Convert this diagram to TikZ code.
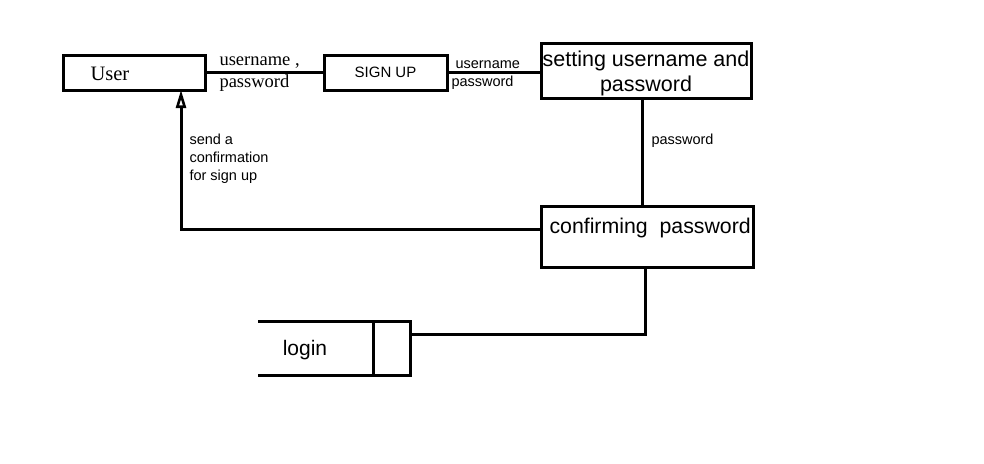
\documentclass[tikz,border=0pt]{standalone}
\usepackage{fontspec}
\setmainfont{Liberation Sans}
\newfontfamily\serifx{Liberation Serif}
\usetikzlibrary{arrows.meta}
\begin{document}
\begin{tikzpicture}[x=1pt,y=-1pt,line width=3pt,
  box/.style={draw,rectangle,line width=3pt,inner sep=0pt},
  lab/.style={font=\fontsize{14.5}{17}\selectfont,inner sep=0pt,align=left},
  serlab/.style={font=\serifx\fontsize{18.5}{20}\selectfont,inner sep=0pt,anchor=west}]
\useasboundingbox (0,0) rectangle (984,463);
% boxes
\node[box,minimum width=142pt,minimum height=35pt] (user) at (134,72.5) {};
\node[serlab,font=\serifx\fontsize{20.5}{22}\selectfont] (usert) at (89,74) {User};
\node[box,minimum width=123pt,minimum height=35pt,font=\fontsize{15}{17}\selectfont] (signup) at (385.5,72.5) {SIGN UP};
\node[box,minimum width=210pt,minimum height=55pt] (setting) at (646,70.5) {};
\node[font=\fontsize{21.5}{25}\selectfont,align=center,inner sep=0pt] (settingt) at (646,73.5) {setting username and\\password};
\node[box,minimum width=212pt,minimum height=61pt] (confirm) at (647,236.5) {};
\node[anchor=west,inner sep=0pt,font=\fontsize{21.3}{24}\selectfont] (confirmt) at (548,228) {confirming\ \ password};
% login datastore
\coordinate (l1) at (258,321);
\coordinate (l2) at (410,321);
\coordinate (l3) at (410,375);
\coordinate (l4) at (258,375);
\draw (l1) -- (l2) -- (l3) -- (l4);
\coordinate (d1) at (373,321);
\coordinate (d2) at (373,377);
\draw (d1) -- (d2);
\node[inner sep=0pt,font=\fontsize{21}{23}\selectfont] (logint) at (305,350) {login};
\coordinate (loginr) at (410,334);
% connectors
\draw (user.east) -- (signup.west);
\node[serlab] (lab1) at (218,63) {username ,};
\node[serlab] (lab2) at (218,83) {password};
\draw (signup.east) -- (setting.west |- signup.east);
\node[lab,anchor=west] (lab3) at (454,65) {username};
\node[lab,anchor=west] (lab4) at (450,83) {password};
\coordinate (s1) at (642,98);
\coordinate (s2) at (642,206);
\draw (s1) -- (s2);
\node[lab,anchor=west] (lab5) at (650,141) {password};
\coordinate (c1) at (541,229);
\coordinate (c2) at (181,229);
\coordinate (ua) at (181,90);
\draw[-{Triangle[open,width=10pt,length=18pt,line width=2.6pt]}] (c1) -- (c2) -- (ua);
\node[lab,anchor=north west,font=\fontsize{14.5}{18}\selectfont] (lab6) at (188,132) {send a\\confirmation\\for sign up};
\coordinate (cb) at (645,267);
\coordinate (cc) at (645,334);
\draw (cb) -- (cc) -- (loginr);
\end{tikzpicture}
\end{document}
